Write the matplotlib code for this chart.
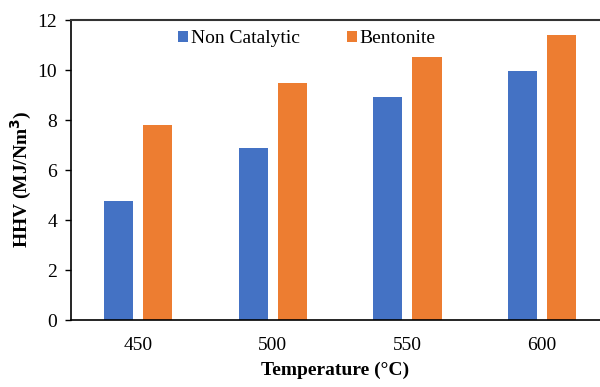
import matplotlib.pyplot as plt
import numpy as np

temps = ['450', '500', '550', '600']
non_catalytic = [4.75, 6.88, 8.92, 9.96]
bentonite = [7.8, 9.48, 10.54, 11.4]

plt.rcParams['font.family'] = ['Liberation Serif', 'DejaVu Serif']

fig = plt.figure(figsize=(6, 3.87), dpi=100)
ax = fig.add_axes([0.118, 0.173, 0.882, 0.775])

x = np.arange(len(temps))
w = 0.216
off = 0.145
ax.bar(x - off, non_catalytic, w, color='#4472C4', label='Non Catalytic')
ax.bar(x + off, bentonite, w, color='#ED7D31', label='Bentonite')

ax.set_xlim(-0.5, 3.43)
ax.set_ylim(0, 12)
ax.set_yticks(range(0, 13, 2))
ax.set_xticks(x)
ax.set_xticklabels(temps)
ax.tick_params(axis='x', length=0, pad=12, labelsize=14)
ax.tick_params(axis='y', length=4, width=1, labelsize=14, pad=6)

for s in ['left', 'bottom']:
    ax.spines[s].set_color('black')
    ax.spines[s].set_linewidth(1.2)
ax.spines['top'].set_color('#333333')
ax.spines['top'].set_linewidth(1.5)
ax.spines['right'].set_visible(False)

ax.set_xlabel('Temperature (°C)', fontsize=14, fontweight='bold', labelpad=6)
ax.set_ylabel('HHV (MJ/Nm$\\mathbf{^3}$)', fontsize=14, fontweight='bold')
ax.yaxis.set_label_coords(-0.07, 0.47)

ax.legend(loc='upper center', bbox_to_anchor=(0.446, 1.025), ncol=2, frameon=False,
          fontsize=14, handlelength=0.5, handleheight=0.5, handletextpad=0.15,
          columnspacing=2.45)

fig.savefig('out.png', dpi=100)
